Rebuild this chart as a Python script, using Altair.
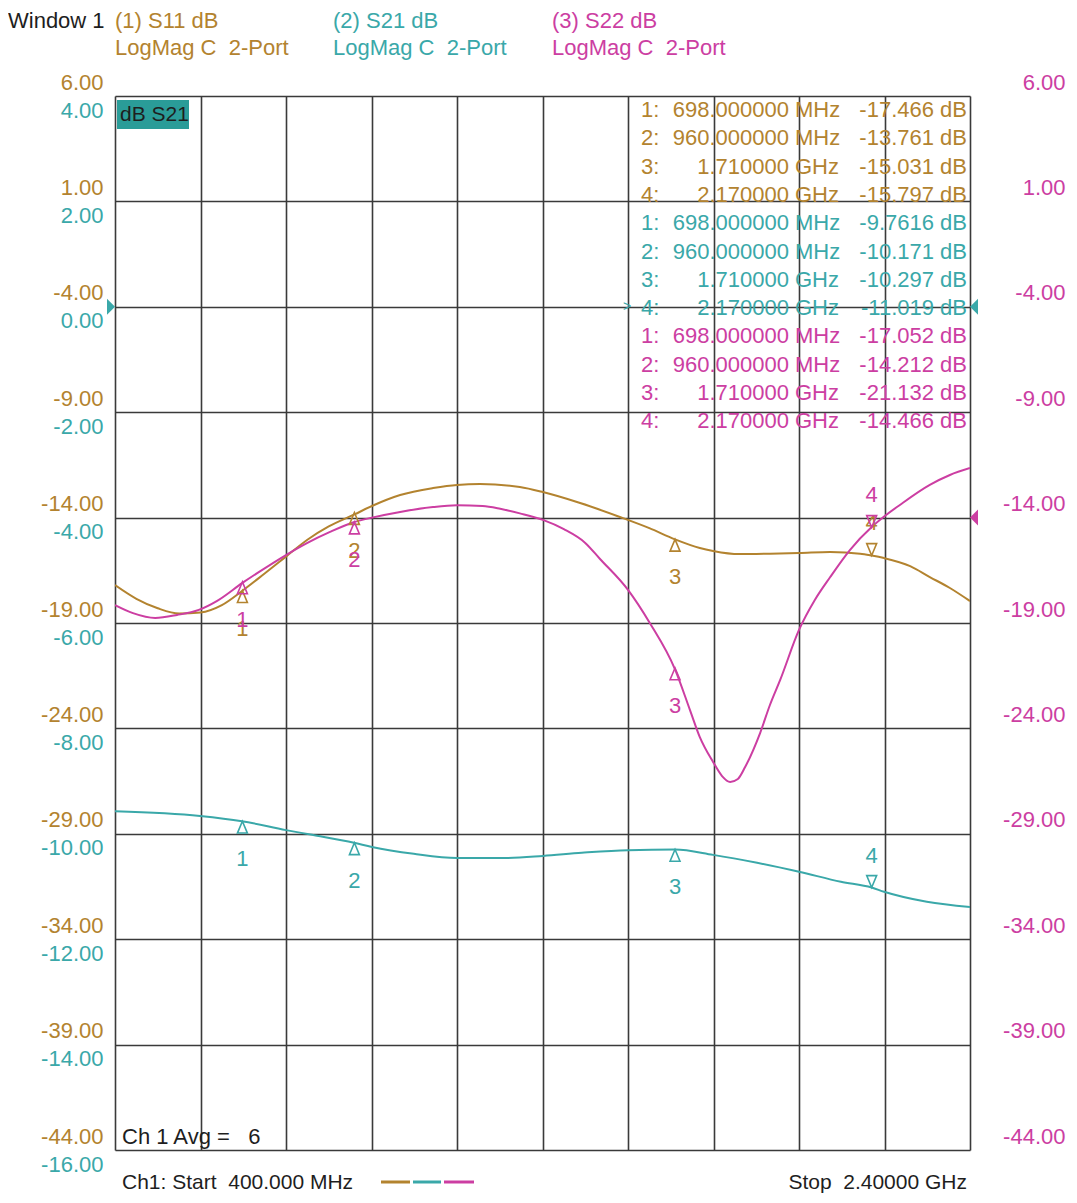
import altair as alt
import pandas as pd

FONT = "Liberation Sans"
BROWN = "#b3832f"
TEAL = "#3aa8a9"
MAGENTA = "#cc3ea2"
INK = "#1e1e1e"
GRID = "#3a3a3a"

# ---- trace data (frequency in MHz, value in dB) ----
s11_freq = [400, 450, 500, 550, 600, 650, 698, 750, 800, 850, 900, 960,
            1001, 1067, 1144, 1200, 1254, 1347, 1401, 1488, 1581, 1650, 1710, 1768, 1799,
            1860, 1932, 2000, 2073, 2143, 2170, 2199, 2260, 2306, 2353, 2400]
s11_db = [-17.20, -17.85, -18.30, -18.55, -18.50, -18.15, -17.47, -16.65, -15.85, -15.05,
          -14.42, -13.85, -13.45, -12.93, -12.60, -12.45, -12.41,
          -12.55, -12.79, -13.31, -13.97, -14.50, -15.03, -15.44, -15.58, -15.73, -15.71,
          -15.68, -15.63, -15.71, -15.80, -15.92, -16.30, -16.82, -17.34, -17.96]

s21_freq = [400, 599, 697, 800, 861, 959, 1001, 1099, 1200, 1308, 1401, 1492, 1600, 1710,
            1799, 1902, 2000, 2098, 2170, 2199, 2299, 2400]
s21_db = [-9.57, -9.66, -9.76, -9.93, -10.02, -10.17, -10.25, -10.38, -10.46, -10.46,
          -10.42, -10.36, -10.31, -10.30, -10.40, -10.55, -10.72, -10.91, -11.02, -11.10,
          -11.29, -11.39]

s22_freq = [400, 442, 494, 545, 596, 639, 698, 739, 798, 849, 903, 960, 1001, 1067, 1144,
            1200, 1260, 1301, 1347, 1401, 1450, 1500, 1534, 1600, 1651, 1710, 1745, 1768, 1799,
            1820, 1839, 1857, 1874, 1909, 1932, 1956, 2000, 2037, 2073, 2119, 2170, 2199,
            2236, 2306, 2353, 2400]
s22_db = [-18.15, -18.53, -18.76, -18.62, -18.38, -17.95, -17.10, -16.55, -15.80, -15.21,
          -14.68, -14.21, -14.00, -13.73, -13.50, -13.42, -13.45, -13.58, -13.80, -14.11,
          -14.55, -15.20, -15.95, -17.43, -19.00, -21.20, -23.13, -24.41, -25.59, -26.26, -26.54,
          -26.40, -25.83, -24.22, -22.89, -21.70, -19.33, -17.91, -16.82, -15.54, -14.45,
          -13.95, -13.40, -12.45, -11.98, -11.65]

# ---- markers ----
marker_freq = [698, 960, 1710, 2170]
marker_names = ["1", "2", "3", "4"]
marker_dir = ["up", "up", "up", "down"]
marker_freq_text = ["698.000000", "960.000000", "1.710000", "2.170000"]
marker_unit = ["MHz", "MHz", "GHz", "GHz"]
s11_marker_db = [-17.466, -13.761, -15.031, -15.797]
s21_marker_db = [-9.7616, -10.171, -10.297, -11.019]
s22_marker_db = [-17.052, -14.212, -21.132, -14.466]

# ---- axes ----
x_ticks = list(range(400, 2401, 200))
s11_ticks = list(range(-44, 7, 5))
s21_ticks = list(range(-16, 5, 2))
s22_ticks = list(range(-44, 7, 5))
S11_DOM = [-44, 6]
S21_DOM = [-16, 4]
S22_DOM = [-44, 6]
F_DOM = [400, 2400]

UP = "M0,0L-0.42,1L0.42,1Z"
DOWN = "M0,0L-0.42,-1L0.42,-1Z"
LABEL_EXPR = "replace(format(datum.value, '.2f'), '\u2212', '-')"


def xenc(axis=None):
    return alt.X("freq:Q", scale=alt.Scale(domain=F_DOM, nice=False, zero=False), axis=axis)


def yenc(dom, axis=None):
    return alt.Y("db:Q", scale=alt.Scale(domain=dom, nice=False, zero=False), axis=axis)


x_axis = alt.Axis(values=x_ticks, grid=True, labels=False, ticks=False, domain=False,
                  gridColor=GRID, gridWidth=1.6, gridOpacity=1, title=None)


def y_axis(vals, color, orient, offset, pad, align=None, grid=False):
    kw = dict(values=vals, orient=orient, grid=grid, ticks=False, tickSize=0, domain=False,
              labelColor=color, labelFont=FONT, labelFontSize=22, labelOffset=offset,
              labelPadding=pad, labelExpr=LABEL_EXPR, labelFlush=False, labelOverlap=False,
              labelBaseline="middle", title=None)
    if grid:
        kw.update(gridColor=GRID, gridWidth=1.6, gridOpacity=1)
    if align:
        kw["labelAlign"] = align
    return alt.Axis(**kw)


def curve(freq, db, color, dom, xa=None, ya=None):
    df = pd.DataFrame({"freq": freq, "db": db})
    return alt.Chart(df).mark_line(color=color, strokeWidth=2, interpolate="monotone",
                                   clip=True).encode(x=xenc(xa), y=yenc(dom, ya))


layers = []
layers.append(curve(s11_freq, s11_db, BROWN, S11_DOM, x_axis,
                    y_axis(s11_ticks, BROWN, "left", -14, 12, grid=True)))
layers.append(curve(s21_freq, s21_db, TEAL, S21_DOM, None,
                    y_axis(s21_ticks, TEAL, "left", 14, 12)))
layers.append(curve(s22_freq, s22_db, MAGENTA, S22_DOM, None,
                    y_axis(s22_ticks, MAGENTA, "right", -14, 95, align="right")))


def markers(vals, color, dom):
    df = pd.DataFrame({"freq": marker_freq, "db": vals, "name": marker_names, "dir": marker_dir})
    out = []
    for d, shape, dy in [("up", UP, 38), ("down", DOWN, -32)]:
        sub = df[df["dir"] == d]
        out.append(alt.Chart(sub).mark_point(shape=shape, size=560, filled=False, color=color,
                                             strokeWidth=1.6, opacity=1)
                   .encode(x=xenc(), y=yenc(dom)))
        out.append(alt.Chart(sub).mark_text(dy=dy, fontSize=22, font=FONT, color=color)
                   .encode(x=xenc(), y=yenc(dom), text="name:N"))
    return out


layers += markers(s11_marker_db, BROWN, S11_DOM)
layers += markers(s21_marker_db, TEAL, S21_DOM)
layers += markers(s22_marker_db, MAGENTA, S22_DOM)

# ---- reference level arrows ----
def ref_arrow(level, dom, color, xpix, shape):
    df = pd.DataFrame({"db": [level]})
    return alt.Chart(df).mark_point(shape=shape, size=256, filled=True, color=color,
                                    opacity=1, strokeWidth=0).encode(
        x=alt.value(xpix), y=yenc(dom))


layers.append(ref_arrow(0, S21_DOM, TEAL, 0, "M0,0L-1,-1L-1,1Z"))
layers.append(ref_arrow(0, S21_DOM, TEAL, 855, "M0,0L1,-1L1,1Z"))
layers.append(ref_arrow(-14, S22_DOM, MAGENTA, 855, "M0,0L1,-1L1,1Z"))
layers.append(alt.Chart(pd.DataFrame({"db": [0]})).mark_text(
    text=">", fontSize=14, font=FONT, color=TEAL, align="center", baseline="middle").encode(
    x=alt.value(512), y=yenc(S21_DOM)))

# ---- marker readout table ----
rows = []
for series, vals, col in [("S11", s11_marker_db, BROWN), ("S21", s21_marker_db, TEAL),
                          ("S22", s22_marker_db, MAGENTA)]:
    for i in range(4):
        rows.append({"idx": marker_names[i] + ":", "ftxt": marker_freq_text[i],
                     "unit": marker_unit[i], "vtxt": f"{vals[i]:.5g} dB", "col": col})
table = pd.DataFrame(rows)
table["ty"] = [14 + 28.3 * k for k in range(len(table))]

for field, xpix, align in [("idx", 526, "left"), ("ftxt", 674, "right"),
                           ("unit", 680, "left"), ("vtxt", 852, "right")]:
    layers.append(alt.Chart(table).mark_text(fontSize=22, font=FONT, align=align,
                                             baseline="middle").encode(
        x=alt.value(xpix), y=alt.Y("ty:Q", scale=None, axis=None),
        text=f"{field}:N", color=alt.Color("col:N", scale=None, legend=None)))

# ---- static annotations ----
one = pd.DataFrame({"a": [0]})


def label(txt, x, y, color, align="left", size=22):
    return alt.Chart(one).mark_text(text=txt, align=align, baseline="middle", fontSize=size,
                                    font=FONT, color=color).encode(x=alt.value(x), y=alt.value(y))


NB = "\u00a0"
layers.append(label("Window 1", -107, -75, INK))
layers.append(label("(1) S11 dB", 0, -75, BROWN))
layers.append(label(f"LogMag C{NB}{NB}2-Port", 0, -48, BROWN))
layers.append(label("(2) S21 dB", 218, -75, TEAL))
layers.append(label(f"LogMag C{NB}{NB}2-Port", 218, -48, TEAL))
layers.append(label("(3) S22 dB", 437, -75, MAGENTA))
layers.append(label(f"LogMag C{NB}{NB}2-Port", 437, -48, MAGENTA))

layers.append(alt.Chart(one).mark_rect(color="#2a9c98", opacity=1).encode(
    x=alt.value(2), x2=alt.value(74), y=alt.value(4), y2=alt.value(33)))
layers.append(label("dB S21", 5, 19, INK, size=21))

layers.append(label(f"Ch 1 Avg ={NB}{NB}{NB}6", 7, 1041, INK))
layers.append(label(f"Ch1: Start{NB}{NB}400.000 MHz", 7, 1087, INK, size=21))
layers.append(label(f"Stop{NB}{NB}2.40000 GHz", 852, 1087, INK, align="right", size=21))

for col, x1, x2 in [(BROWN, 266, 295), (TEAL, 298, 326), (MAGENTA, 329, 359)]:
    layers.append(alt.Chart(one).mark_rule(color=col, strokeWidth=3).encode(
        x=alt.value(x1), x2=alt.value(x2), y=alt.value(1086)))

chart = alt.layer(*layers).resolve_scale(x="independent", y="independent").properties(
    width=855, height=1054,
    autosize=alt.AutoSizeParams(type="none"),
    padding={"left": 107, "top": 88, "right": 99, "bottom": 45},
    background="white",
).configure_view(stroke=None)

chart.save("out.html", embed_options={"renderer": "svg", "actions": False})
